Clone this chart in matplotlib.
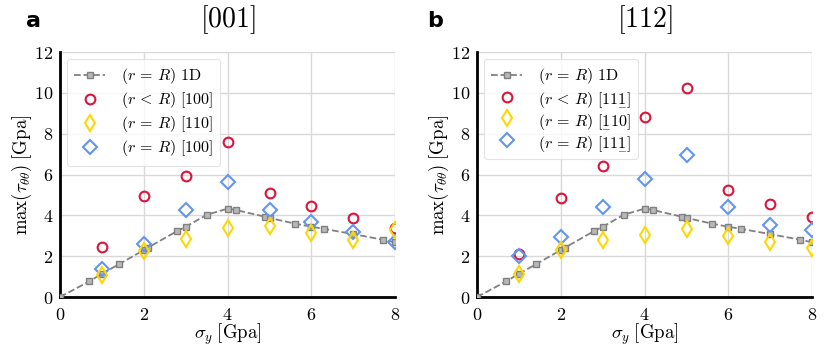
"""
Max hoop stress vs yield stress for [001] and [112] loading, two panels.
"""
import matplotlib

matplotlib.use("Agg")
import matplotlib.pyplot as plt  # noqa: E402
from matplotlib.lines import Line2D  # noqa: E402

plt.rcParams["mathtext.fontset"] = "cm"
plt.rcParams["font.family"] = ["cmr10", "DejaVu Serif"]
plt.rcParams["axes.formatter.use_mathtext"] = True

# 1D reference curve (same in both panels)
sig_1d = [0, 0.7, 1.0, 1.4, 2.0, 2.1, 2.8, 3.0, 3.5, 4.0, 4.2, 4.9, 5.0,
          5.6, 6.0, 6.3, 7.0, 7.7, 8.0]
tau_1d = [0.0, 0.77, 1.14, 1.6, 2.3, 2.42, 3.24, 3.44, 4.03, 4.33, 4.26, 3.93,
          3.87, 3.6, 3.44, 3.34, 3.08, 2.81, 2.68]

sig = [1, 2, 3, 4, 5, 6, 7, 8]

# panel a: [001]
a_inner = [2.43, 4.93, 5.94, 7.61, 5.11, 4.46, 3.87, 3.37]
a_110 = [1.10, 2.25, 2.85, 3.37, 3.47, 3.14, 2.78, 3.30]
a_100 = [1.37, 2.62, 4.26, 5.64, 4.26, 3.67, 3.17, 2.71]

# panel b: [112]
b_inner = [2.09, 4.85, 6.43, 8.82, 10.23, 5.26, 4.57, 3.91]
b_110 = [1.12, 2.30, 2.80, 3.04, 3.32, 2.99, 2.71, 2.42]
b_111 = [2.00, 2.96, 4.42, 5.79, 6.94, 4.41, 3.55, 3.26]

UL1 = r"\underset{-}{1}"  # underlined (negative) index
EQ = r"(r\,=\,R)"
LT = r"(r\,<\,R)"
panels = [
    ("a", 0.040, "[001]", a_inner, a_110, a_100,
     [f"${LT}\\ [100]$", f"${EQ}\\ [110]$", f"${EQ}\\ [100]$"]),
    ("b", 0.524, "[112]", b_inner, b_110, b_111,
     [f"${LT}\\ [11{UL1}]$", f"${EQ}\\ [{UL1}10]$", f"${EQ}\\ [11{UL1}]$"]),
]

RED = "#dc143c"
GOLD = "#ffd700"
BLUE = "#6495ed"
GREY = "#808080"

fig = plt.figure(figsize=(8.30, 3.47), dpi=100)
lefts = [0.0723, 0.5747]

for (tag, tag_x, title, inner, y110, yblue, labels), left in zip(panels, lefts):
    ax = fig.add_axes([left, 0.144, 0.404, 0.706])
    ax.plot(sig_1d, tau_1d, "--s", color=GREY, lw=1.3, ms=4.5,
            mfc="#b8b8b8", mec=GREY, mew=1.0, zorder=3)
    ax.plot(sig, inner, "o", ls="none", ms=7, mfc="none", mec=RED, mew=1.5,
            zorder=4)
    ax.plot(sig, yblue, "D", ls="none", ms=7, mfc="none", mec=BLUE, mew=1.5,
            zorder=4)
    ax.plot(sig, y110, "d", ls="none", ms=8, mfc="none", mec=GOLD, mew=1.5,
            zorder=5)

    ax.set_xlim(0, 8)
    ax.set_ylim(0, 12)
    ax.set_xticks([0, 2, 4, 6, 8])
    ax.set_yticks([0, 2, 4, 6, 8, 10, 12])
    ax.set_xticklabels([f"${v}$" for v in [0, 2, 4, 6, 8]])
    ax.set_yticklabels([f"${v}$" for v in [0, 2, 4, 6, 8, 10, 12]])
    ax.tick_params(length=0, labelsize=13, pad=7)
    ax.tick_params(axis="y", pad=5)
    ax.grid(True, color="#d9d9d9", lw=1.0)
    ax.set_axisbelow(True)
    for side in ("top", "right"):
        ax.spines[side].set_visible(False)
    for side in ("left", "bottom"):
        ax.spines[side].set_linewidth(2.0)
        ax.spines[side].set_color("black")

    ax.set_xlabel(r"$\sigma_y\;[\mathrm{Gpa}]$", fontsize=13.5, labelpad=-1)
    ax.set_ylabel(r"$\max(\tau_{\theta\theta})\;[\mathrm{Gpa}]$",
                  fontsize=13.5, labelpad=0)
    ax.set_title(f"${title}$", fontsize=20, pad=18)

    handles = [
        Line2D([], [], ls="--", marker="s", color=GREY, lw=1.3, ms=4.5,
               mfc="#b8b8b8", mec=GREY),
        Line2D([], [], ls="none", marker="o", ms=7, mfc="none", mec=RED,
               mew=1.5),
        Line2D([], [], ls="none", marker="d", ms=8, mfc="none", mec=GOLD,
               mew=1.5),
        Line2D([], [], ls="none", marker="D", ms=7, mfc="none", mec=BLUE,
               mew=1.5),
    ]
    leg_labels = [f"${EQ}\\ 1\\mathrm{{D}}$"] + labels
    leg = ax.legend(handles, leg_labels, loc="upper left", fontsize=11.5,
                    frameon=True, fancybox=True, handlelength=1.9,
                    handletextpad=1.0, borderpad=0.45, labelspacing=0.25,
                    borderaxespad=0.45)
    leg.get_frame().set_edgecolor("#dddddd")
    leg.get_frame().set_linewidth(0.8)

    fig.text(tag_x, 0.94, tag, fontsize=16, fontweight="bold",
             family="DejaVu Sans", ha="center", va="center")

fig.savefig("out.png", dpi=100)
